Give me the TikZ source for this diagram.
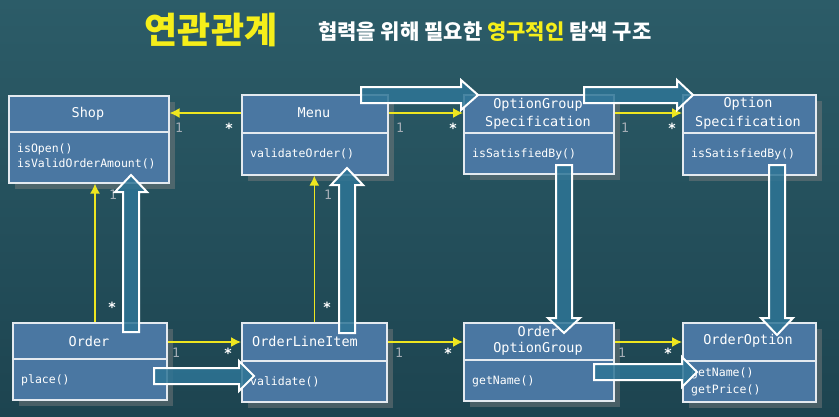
\documentclass[tikz,border=0pt]{standalone}
\usepackage{fontspec}
\setmonofont{DejaVu Sans Mono}
\newfontfamily\kr{Noto Sans CJK KR}
\usetikzlibrary{shadows,calc,arrows.meta}
\definecolor{bgA}{HTML}{2C5C68}
\definecolor{bgB}{HTML}{1D4450}
\definecolor{boxfill}{HTML}{4A77A2}
\definecolor{boxline}{HTML}{E4EAF0}
\definecolor{arrfill}{HTML}{2E7596}
\definecolor{yel}{HTML}{EEE620}
\definecolor{mult}{HTML}{A4ADB5}
\definecolor{ttlY}{HTML}{F5EE1A}
\newcommand\bigup[4]{% x, tip, head base, bottom
  \draw[bigarrow] (#1-8,#4) -- (#1-8,#3) -- (#1-16,#3) -- (#1,#2) -- (#1+16,#3) -- (#1+8,#3) -- (#1+8,#4) -- cycle;}
\newcommand\bigdown[4]{% x, top, head base, tip
  \draw[bigarrow] (#1-8,#2) -- (#1-8,#3) -- (#1-16,#3) -- (#1,#4) -- (#1+16,#3) -- (#1+8,#3) -- (#1+8,#2) -- cycle;}
\newcommand\bigright[4]{% y, left, head base, tip
  \draw[bigarrow] (#2,#1-8) -- (#3,#1-8) -- (#3,#1-15) -- (#4,#1) -- (#3,#1+15) -- (#3,#1+8) -- (#2,#1+8) -- cycle;}
\begin{document}
\begin{tikzpicture}[x=1pt,y=-1pt,
  classbox/.style={draw=boxline, line width=1.6pt, fill=boxfill, anchor=north west, inner sep=0pt,
    drop shadow={opacity=0.45, shadow xshift=6pt, shadow yshift=-6pt}},
  divider/.style={draw=boxline, line width=1.6pt},
  cname/.style={font=\ttfamily\fontsize{13.5}{15}\selectfont, text=white, inner sep=0pt},
  meth/.style={font=\ttfamily\fontsize{11.5}{13}\selectfont, text=white, anchor=west, inner sep=0pt},
  assoc/.style={draw=yel, line width=1.4pt, -{Latex[length=10pt,width=10pt]}},
  one/.style={font=\ttfamily\fontsize{13}{13}\selectfont, text=mult, inner sep=0pt},
  many/.style={font=\ttfamily\bfseries\fontsize{14}{14}\selectfont, text=white, inner sep=0pt},
  bigarrow/.style={draw=white, line width=2pt, fill=arrfill, fill opacity=0.85, line join=miter},
]
\useasboundingbox (0,0) rectangle (839,416);
\shade[top color=bgA, bottom color=bgB] (0,0) rectangle (839,416);

% title
\node[font=\kr\bfseries\fontsize{36}{36}\selectfont, text=ttlY, inner sep=0pt] (title) at (211,30) {연관관계};
\node[font=\kr\bfseries\fontsize{21}{22}\selectfont, text=white, inner sep=0pt, anchor=west] (subtitle) at (318,32)
  {협력을 위해 필요한 \textcolor{ttlY}{영구적인} 탐색 구조};

% classes
\node[classbox, minimum width=160pt, minimum height=87pt] (shop) at (8,95) {};
\draw[divider] (shop.west |- 0,132) -- (shop.east |- 0,132);
\node[cname] (shopN) at (88,114) {Shop};
\node[meth] (shopM1) at (17,149) {isOpen()};
\node[meth] (shopM2) at (17,164) {isValidOrderAmount()};

\node[classbox, minimum width=146pt, minimum height=80pt] (menu) at (241,94) {};
\draw[divider] (menu.west |- 0,133) -- (menu.east |- 0,133);
\node[cname] (menuN) at (314,113) {Menu};
\node[meth] (menuM) at (250,154) {validateOrder()};

\node[classbox, minimum width=150pt, minimum height=79pt] (ogs) at (463,94) {};
\draw[divider] (ogs.west |- 0,133) -- (ogs.east |- 0,133);
\node[cname] (ogsN1) at (538,105) {OptionGroup};
\node[cname] (ogsN2) at (538,123) {Specification};
\node[meth] (ogsM) at (472,154) {isSatisfiedBy()};

\node[classbox, minimum width=133pt, minimum height=80pt] (os) at (682,94) {};
\draw[divider] (os.west |- 0,133) -- (os.east |- 0,133);
\node[cname] (osN1) at (748,104) {Option};
\node[cname] (osN2) at (748,123) {Specification};
\node[meth] (osM) at (691,154) {isSatisfiedBy()};

\node[classbox, minimum width=154pt, minimum height=77pt] (order) at (12,322) {};
\draw[divider] (order.west |- 0,359) -- (order.east |- 0,359);
\node[cname] (orderN) at (89,341) {Order};
\node[meth] (orderM) at (21,380) {place()};

\node[classbox, minimum width=145pt, minimum height=79pt] (oli) at (241,322) {};
\draw[divider] (oli.west |- 0,361) -- (oli.east |- 0,361);
\node[cname] (oliN) at (305,341) {OrderLineItem};
\node[meth] (oliM) at (250,382) {validate()};

\node[classbox, minimum width=150pt, minimum height=78pt] (oog) at (463,322) {};
\draw[divider] (oog.west |- 0,360) -- (oog.east |- 0,360);
\node[cname] (oogN1) at (538,331) {Order};
\node[cname] (oogN2) at (538,349) {OptionGroup};
\node[meth] (oogM) at (472,381) {getName()};

\node[classbox, minimum width=133pt, minimum height=79pt] (oo) at (682,322) {};
\draw[divider] (oo.west |- 0,361) -- (oo.east |- 0,361);
\node[cname] (ooN) at (748,341) {OrderOption};
\node[meth] (ooM1) at (691,373) {getName()};
\node[meth] (ooM2) at (691,390) {getPrice()};

% associations
\coordinate (c1) at ([yshift=-19pt]menu.north west);
\draw[assoc] (c1) -- (c1 -| shop.east);
\coordinate (c2) at ([yshift=-19pt]menu.north east);
\draw[assoc] (c2) -- (c2 -| ogs.west);
\coordinate (c3) at ([yshift=-19pt]ogs.north east);
\draw[assoc] (c3) -- (c3 -| os.west);
\coordinate (c4) at ($(order.north west)+(83,0)$);
\draw[assoc] (c4) -- (c4 |- shop.south);
\draw[assoc] (oli.north) -- (oli.north |- menu.south);
\coordinate (c5) at ([yshift=-20pt]order.north east);
\draw[assoc] (c5) -- (c5 -| oli.west);
\coordinate (c6) at ([yshift=-20pt]oli.north east);
\draw[assoc] (c6) -- (c6 -| oog.west);
\coordinate (c7) at ([yshift=-20pt]oog.north east);
\draw[assoc] (c7) -- (c7 -| oo.west);

% multiplicities
\node[one] (m1) at (179,128) {1};
\node[many] (m2) at (229,128) {*};
\node[one] (m3) at (400,128) {1};
\node[many] (m4) at (453,128) {*};
\node[one] (m5) at (625,128) {1};
\node[many] (m6) at (672,128) {*};
\node[one] (m7) at (113,195) {1};
\node[many] (m8) at (112,307) {*};
\node[one] (m9) at (328,195) {1};
\node[many] (m10) at (327,307) {*};
\node[one] (m11) at (176,353) {1};
\node[many] (m12) at (228,353) {*};
\node[one] (m13) at (399,353) {1};
\node[many] (m14) at (448,353) {*};
\node[one] (m15) at (622,353) {1};
\node[many] (m16) at (668,353) {*};

% navigation arrows
\bigup{131}{175}{192}{332}
\bigup{347}{168}{185}{333}
\bigright{95}{361}{461}{478}
\bigright{95}{584}{677}{693}
\bigdown{564}{165}{318}{333}
\bigdown{777}{165}{318}{335}
\bigright{376}{154}{239}{254}
\bigright{372}{594}{682}{697}
\end{tikzpicture}
\end{document}
